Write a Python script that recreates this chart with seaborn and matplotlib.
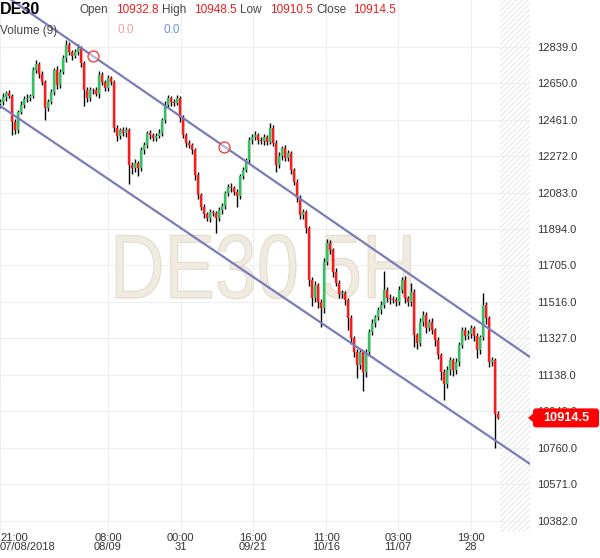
import numpy as np
import pandas as pd
import matplotlib
matplotlib.use('Agg')
import matplotlib.pyplot as plt
import seaborn as sns
from matplotlib.patches import FancyBboxPatch, Polygon, PathPatch
from matplotlib.textpath import TextPath
from matplotlib.font_manager import FontProperties
from matplotlib.transforms import IdentityTransform, Affine2D

# ---- data ----
first_open = 12540
closes = [
    12552, 12578, 12599, 12583, 12449, 12407, 12500, 12537, 12568, 12573,
    12583, 12718, 12749, 12697, 12656, 12521, 12552, 12604, 12718, 12640,
    12708, 12780, 12848, 12811, 12791, 12811, 12832, 12754, 12614, 12573,
    12614, 12614, 12594, 12692, 12656, 12625, 12677, 12656, 12417, 12376,
    12407, 12392, 12407, 12226, 12210, 12236, 12210, 12303, 12329, 12392,
    12381, 12366, 12376, 12392, 12459, 12537, 12573, 12552, 12547, 12573,
    12469, 12381, 12340, 12329, 12303, 12174, 12070, 12008, 11972, 11951,
    11982, 11977, 11951, 11992, 12013, 12081, 12112, 12106, 12086, 12065,
    12169, 12200, 12252, 12355, 12371, 12381, 12355, 12350, 12371, 12345,
    12417, 12340, 12226, 12272, 12314, 12262, 12288, 12200, 12138, 12055,
    11966, 11982, 11899, 11630, 11536, 11604, 11515, 11484, 11723, 11821,
    11785, 11671, 11614, 11557, 11562, 11526, 11432, 11329, 11256, 11189,
    11256, 11153, 11256, 11360, 11407, 11438, 11474, 11500, 11578, 11536,
    11531, 11526, 11515, 11578, 11630, 11536, 11515, 11567, 11344, 11303,
    11412, 11448, 11381, 11412, 11370, 11318, 11241, 11153, 11090, 11163,
    11215, 11163, 11204, 11292, 11370, 11339, 11349, 11381, 11339, 11267,
    11334, 11500, 11432, 11204, 11215, 10932.8, 10914.5,
]
# wick length above max(open, close) and below min(open, close), in points
wick_up = [
    15, 20, 12, 18, 10, 15, 12, 18, 14, 20,
    12, 15, 20, 10, 14, 12, 16, 18, 12, 22,
    15, 18, 26, 14, 12, 16, 20, 12, 10, 15,
    18, 12, 15, 20, 14, 10, 16, 12, 10, 15,
    12, 18, 14, 10, 15, 20, 12, 15, 14, 12,
    16, 10, 14, 18, 12, 20, 15, 12, 14, 18,
    10, 15, 12, 14, 10, 12, 15, 10, 14, 12,
    16, 12, 10, 18, 14, 12, 15, 20, 12, 14,
    10, 15, 12, 18, 14, 20, 12, 16, 14, 12,
    26, 14, 15, 20, 12, 16, 14, 10, 12, 15,
    14, 18, 12, 10, 15, 20, 12, 14, 18, 22,
    15, 12, 20, 14, 18, 12, 10, 15, 12, 14,
    18, 12, 16, 14, 20, 12, 15, 18, 100, 15,
    20, 14, 16, 22, 15, 18, 12, 45, 14, 12,
    18, 22, 14, 16, 20, 12, 15, 10, 14, 18,
    16, 12, 20, 14, 18, 16, 22, 14, 12, 15,
    12, 60, 14, 10, 16, 12, 15.7,
]
wick_dn = [
    18, 14, 20, 12, 68, 20, 15, 12, 18, 14,
    16, 12, 15, 20, 14, 62, 18, 12, 15, 20,
    14, 12, 18, 15, 20, 12, 14, 18, 80, 20,
    15, 18, 12, 20, 15, 18, 14, 16, 20, 25,
    15, 18, 20, 100, 30, 20, 40, 15, 18, 14,
    20, 15, 18, 12, 16, 14, 18, 20, 15, 12,
    18, 15, 20, 14, 18, 25, 20, 18, 22, 15,
    20, 18, 78, 15, 20, 18, 14, 20, 16, 57,
    15, 18, 12, 16, 20, 14, 18, 15, 20, 14,
    12, 18, 37, 15, 20, 14, 18, 20, 15, 22,
    18, 20, 25, 30, 40, 20, 30, 98, 25, 18,
    20, 25, 18, 22, 20, 25, 60, 30, 25, 70,
    20, 100, 25, 20, 18, 22, 15, 20, 18, 20,
    25, 18, 22, 15, 18, 25, 20, 18, 60, 30,
    18, 20, 25, 18, 22, 30, 20, 40, 83, 20,
    25, 30, 20, 18, 15, 22, 18, 20, 25, 40,
    20, 18, 30, 25, 20, 173, 4,
]

ytick_vals = [10382, 10571, 10760, 10949, 11138, 11327, 11516,
              11705, 11894, 12083, 12272, 12461, 12650, 12839]
xtick_pos = [0, 36, 60.3, 84.3, 108.7, 132.7, 157]
xtick_labels = ['21:00\n07/08/2018', '08:00\n08/09', '00:00\n31', '16:00\n09/21',
                '11:00\n10/16', '03:00\n11/07', '19:00\n28']

# trend channel drawn on the chart
chan_x = [0, 176.7]
chan_upper = [13122, 11230]
chan_lower = [12532, 10676]
touch_x = [31, 74.7]
touch_y = [12791, 12320]

last_open, last_high, last_low, last_close = 10932.8, 10948.5, 10910.5, 10914.5

# ---- build candles ----
df = pd.DataFrame({'close': closes})
df['i'] = np.arange(len(df))
df['open'] = [first_open] + closes[:-1]
df['high'] = df[['open', 'close']].max(axis=1) + np.array(wick_up)
df['low'] = df[['open', 'close']].min(axis=1) - np.array(wick_dn)
up = df['close'] >= df['open']

sns.set_style('white')
plt.rcParams['font.family'] = ['Liberation Sans', 'DejaVu Sans']
plt.rcParams['hatch.linewidth'] = 0.7

W, H = 600, 558
fig = plt.figure(figsize=(W / 100, H / 100), dpi=100)
ax = fig.add_axes([0, 1 - 532 / H, 530 / W, 532 / H])
ax.set_xlim(0, 176.7)
ax.set_ylim(10323, 13081)
ident = IdentityTransform()

# watermark (narrowed text path, display pixels)
wm = TextPath((0, 0), 'DE30 5H', size=91, prop=FontProperties(family='Liberation Sans'))
wm_patch = PathPatch(wm, transform=Affine2D().scale(0.83, 1.0).translate(110, H - 298) + ident,
                     facecolor='#f0ebe1', edgecolor='#e4dccb', lw=0.8, zorder=1)
ax.add_artist(wm_patch)

# future (hatched) zone
ax.axvspan(166.7, 176.7, facecolor='none', edgecolor='#e6e6e6', hatch='//////',
           linewidth=0, zorder=0.5)

# candles
ax.vlines(df['i'], df['low'], df['high'], color='black', lw=1.0, zorder=3)
ax.vlines(df['i'][up], df['open'][up], df['close'][up], color='#2fc25f', lw=1.7, zorder=4)
ax.vlines(df['i'][~up], df['open'][~up], df['close'][~up], color='#ff1a1a', lw=1.7, zorder=4)

# channel
sns.lineplot(x=chan_x, y=chan_upper, color='#7b7bba', lw=1.6, ax=ax, zorder=5)
sns.lineplot(x=chan_x, y=chan_lower, color='#7b7bba', lw=1.6, ax=ax, zorder=5)
sns.scatterplot(x=touch_x, y=touch_y, s=62, facecolor=(1, 1, 1, 0.45),
                edgecolor='#ee4444', linewidth=1.0, ax=ax, zorder=6)

# axes styling
ax.set_yticks(ytick_vals)
ax.set_yticklabels([f'{v:.1f}' for v in ytick_vals])
ax.yaxis.tick_right()
ax.set_xticks(xtick_pos)
ax.set_xticklabels(xtick_labels, linespacing=0.85)
ax.get_xticklabels()[0].set_horizontalalignment('left')
ax.tick_params(axis='both', length=0, labelsize=8, labelcolor='#333333')
ax.tick_params(axis='y', pad=5)
ax.tick_params(axis='x', pad=1)
ax.grid(True, color='#eeeeee', lw=0.8)
ax.set_axisbelow(True)
for s in ax.spines.values():
    s.set_visible(False)
ax.set_xlabel('')
ax.set_ylabel('')

# header (pixel coords from top)
def htext(x, y, s, **kw):
    fig.text(x, H - y, s, transform=ident, va='center', ha='left', **kw)

htext(0, 10, 'DE30', fontsize=11.5, fontweight='bold', color='black')
for x, s, c in [(79, 'Open', '#444444'), (116, f'{last_open:.1f}', '#ee1c1c'),
                (162, 'High', '#444444'), (194, f'{last_high:.1f}', '#ee1c1c'),
                (240, 'Low', '#444444'), (270, f'{last_low:.1f}', '#ee1c1c'),
                (316, 'Close', '#444444'), (353, f'{last_close:.1f}', '#ee1c1c')]:
    htext(x, 10, s, fontsize=8.5, color=c)
htext(0, 31, 'Volume (9)', fontsize=8.5, color='#444444')
htext(117, 30, '0.0', fontsize=8.5, color='#f4a0a0')
htext(163, 30, '0.0', fontsize=8.5, color='#6f92d8')

# last price tag
yc = ax.transData.transform((0, last_close))[1]
tag = FancyBboxPatch((533, yc - 9.5), 66, 19, boxstyle='round,pad=0,rounding_size=3',
                     transform=ident, facecolor='#ff0000', edgecolor='none', zorder=10)
fig.add_artist(tag)
fig.add_artist(Polygon([[528, yc], [534, yc + 5], [534, yc - 5]], closed=True,
                       transform=ident, facecolor='#ff0000', edgecolor='none', zorder=10))
fig.text(566, yc, f'{last_close:.1f}', transform=ident, ha='center', va='center',
         fontsize=9.2, fontweight='bold', color='white', zorder=11)

fig.savefig('out.png', dpi=100)
